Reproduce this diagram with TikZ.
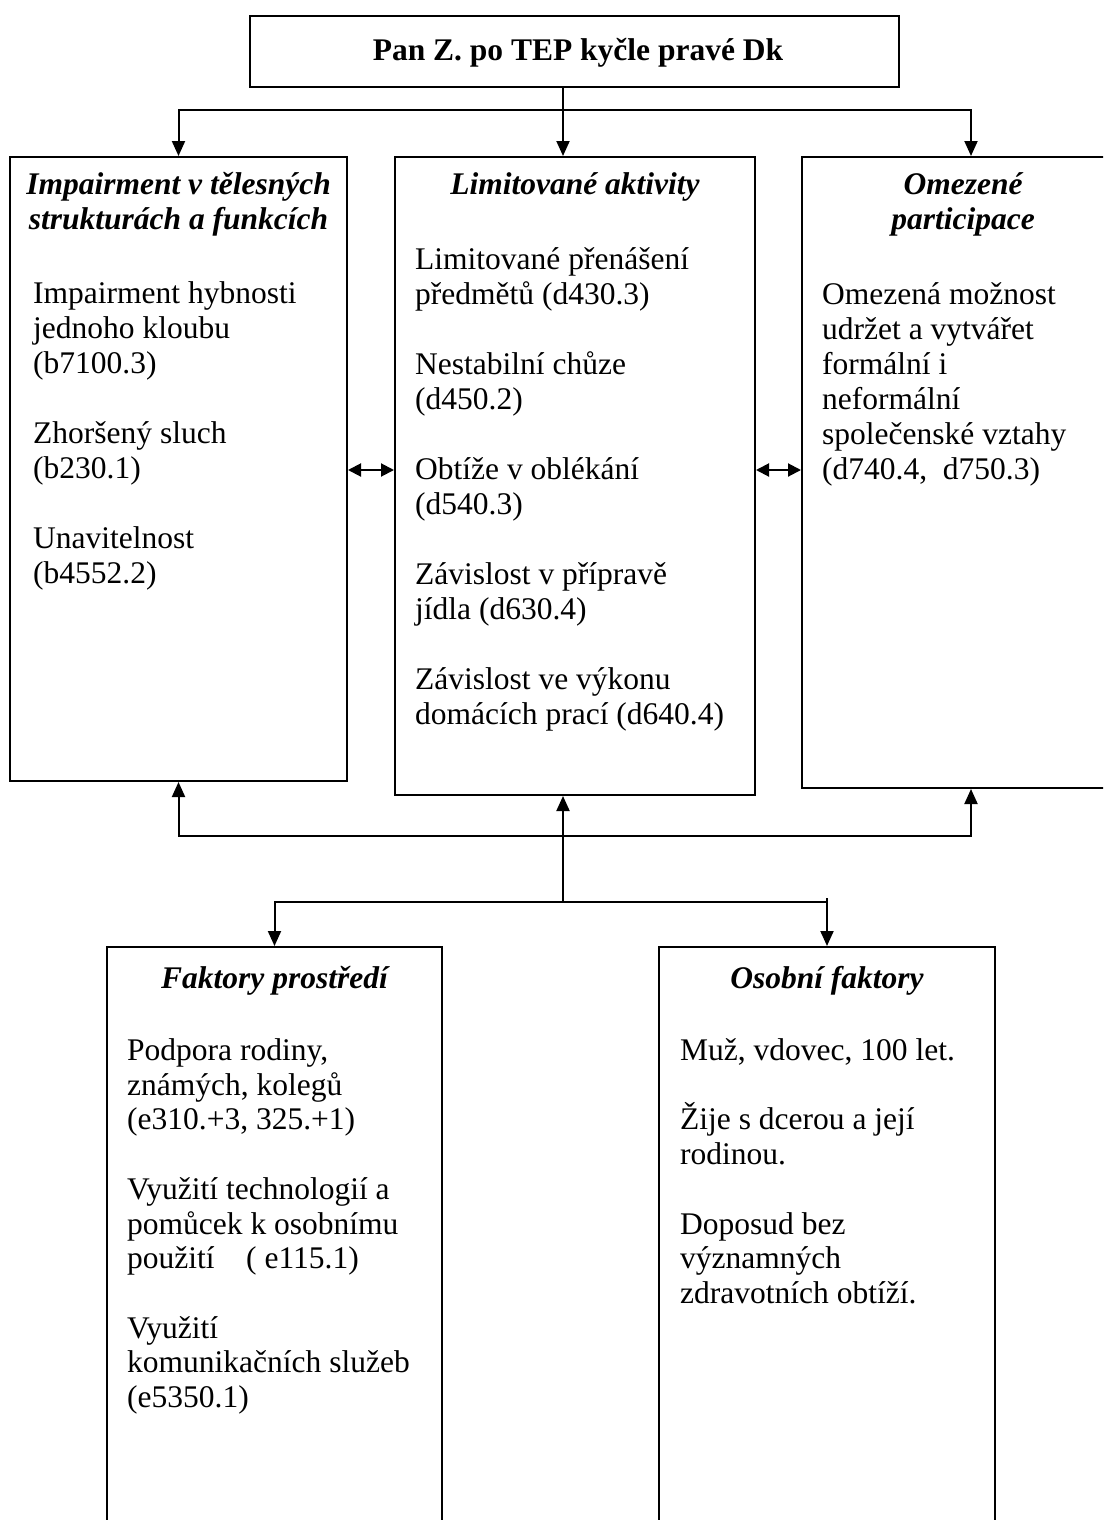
\documentclass[tikz,border=0pt]{standalone}
\usepackage{fontspec}
\setmainfont{Liberation Serif}
\usetikzlibrary{arrows.meta}
\tikzset{
  box/.style={draw, line width=2pt, rectangle, inner sep=0pt},
  txt/.style={anchor=base west, inner sep=0pt, font=\fontsize{31.5}{35}\selectfont},
  ttl/.style={anchor=base, inner sep=0pt, font=\fontsize{31.5}{35}\selectfont\bfseries\itshape},
  ln/.style={line width=2pt},
  arr/.style={line width=2pt, -{Triangle[length=15pt,width=13pt]}},
  darr/.style={line width=2pt, {Triangle[length=13pt,width=13pt]}-{Triangle[length=13pt,width=13pt]}},
}
\begin{document}
\begin{tikzpicture}[x=1pt,y=-1pt]
\useasboundingbox (0,0) rectangle (1103,1520);
\clip (0,0) rectangle (1103,1520);
\fill[white] (0,0) rectangle (1103,1520);

% boxes
\node[box, minimum width=649pt, minimum height=71pt] (T) at (574.5,51.5) {};
\node[inner sep=0pt, anchor=base, font=\fontsize{31.5}{35}\selectfont\bfseries] (tt) at (578,61) {Pan Z. po TEP kyčle pravé Dk};
\node[box, minimum width=337pt, minimum height=624pt] (L) at (178.5,469) {};
\node[box, minimum width=360pt, minimum height=638pt] (M) at (575,476) {};
\node[box, minimum width=322pt, minimum height=631pt] (R) at (963,472.5) {};
\node[box, minimum width=335pt, minimum height=614pt] (BL) at (274.5,1254) {};
\node[box, minimum width=336pt, minimum height=614pt] (BR) at (827,1254) {};

% connectors top
\coordinate (h1) at (563,110);
\coordinate (ra) at (971,110);
\draw[ln] (T.south -| h1) -- (h1);
\draw[arr] (h1) -| (L.north);
\draw[arr] (h1) -- (h1 |- M.north);
\draw[arr] (h1) -- (ra) -- (ra |- R.north);

% double arrows
\coordinate (d) at (0,470);
\draw[darr] (L.east |- d) -- (M.west |- d);
\draw[darr] (M.east |- d) -- (R.west |- d);

% connectors bottom
\coordinate (h2) at (563,836);
\coordinate (rb) at (971,836);
\coordinate (h3) at (563,902);
\coordinate (st) at (827,898);
\draw[arr] (h2) -| (L.south);
\draw[arr] (h3) -- (h3 |- M.south);
\draw[arr] (h2) -- (rb) -- (rb |- R.south);
\draw[arr] (h3) -| (BL.north);
\draw[ln] (h3) -- (h3 -| BR.north);
\draw[arr] (st) -- (BR.north);

% left box text
\node[ttl] (lt1) at (178.5,194) {Impairment v tělesných};
\node[ttl] (lt2) at (178.5,229) {strukturách a funkcích};
\node[txt] (l1) at (33,303) {Impairment hybnosti};
\node[txt] (l2) at (33,338) {jednoho kloubu};
\node[txt] (l3) at (33,373) {(b7100.3)};
\node[txt] (l4) at (33,443) {Zhoršený sluch};
\node[txt] (l5) at (33,478) {(b230.1)};
\node[txt] (l6) at (33,548) {Unavitelnost};
\node[txt] (l7) at (33,583) {(b4552.2)};

% middle box text
\node[ttl] (mt1) at (575,194) {Limitované aktivity};
\node[txt] (m1) at (415,269) {Limitované přenášení};
\node[txt] (m2) at (415,304) {předmětů (d430.3)};
\node[txt] (m3) at (415,374) {Nestabilní chůze};
\node[txt] (m4) at (415,409) {(d450.2)};
\node[txt] (m5) at (415,479) {Obtíže v oblékání};
\node[txt] (m6) at (415,514) {(d540.3)};
\node[txt] (m7) at (415,584) {Závislost v přípravě};
\node[txt] (m8) at (415,619) {jídla (d630.4)};
\node[txt] (m9) at (415,689) {Závislost ve výkonu};
\node[txt] (m10) at (415,724) {domácích prací (d640.4)};

% right box text
\node[ttl] (rt1) at (963,194) {Omezené};
\node[ttl] (rt2) at (963,229) {participace};
\node[txt] (r1) at (822,304) {Omezená možnost};
\node[txt] (r2) at (822,339) {udržet a vytvářet};
\node[txt] (r3) at (822,374) {formální i};
\node[txt] (r4) at (822,409) {neformální};
\node[txt] (r5) at (822,444) {společenské vztahy};
\node[txt] (r6) at (822,479) {(d740.4,\ \ d750.3)};

% bottom left text
\node[ttl] (blt) at (274.5,988) {Faktory prostředí};
\node[txt] (b1) at (127,1060) {Podpora rodiny,};
\node[txt] (b2) at (127,1095) {známých, kolegů};
\node[txt] (b3) at (127,1129) {(e310.+3, 325.+1)};
\node[txt] (b4) at (127,1199) {Využití technologií a};
\node[txt] (b5) at (127,1234) {pomůcek k osobnímu};
\node[txt] (b6) at (127,1268) {použití\ \ \ \ ( e115.1)};
\node[txt] (b7) at (127,1338) {Využití};
\node[txt] (b8) at (127,1372) {komunikačních služeb};
\node[txt] (b9) at (127,1407) {(e5350.1)};

% bottom right text
\node[ttl] (brt) at (827,988) {Osobní faktory};
\node[txt] (p1) at (680,1060) {Muž, vdovec, 100 let.};
\node[txt] (p2) at (680,1129) {Žije s dcerou a její};
\node[txt] (p3) at (680,1164) {rodinou.};
\node[txt] (p4) at (680,1234) {Doposud bez};
\node[txt] (p5) at (680,1268) {významných};
\node[txt] (p6) at (680,1303) {zdravotních obtíží.};
\end{tikzpicture}
\end{document}
